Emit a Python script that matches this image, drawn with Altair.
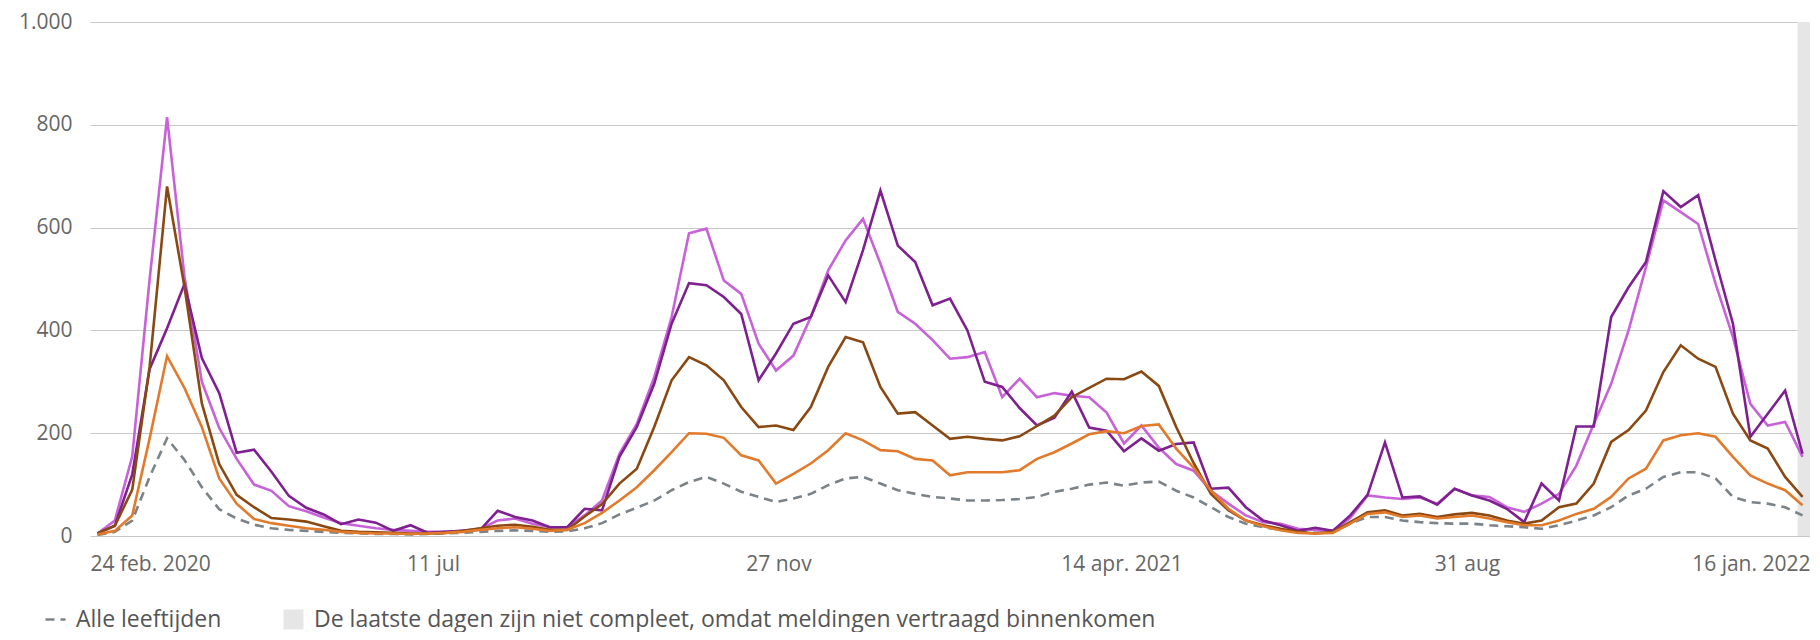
import altair as alt
import pandas as pd

# Weekly points (first week 27 feb 2020)
first_week = "2020-02-27"
n_weeks = 99
week_dates = pd.date_range(first_week, periods=n_weeks, freq="7D").strftime("%Y-%m-%d").tolist()

series_names = ["Groep A", "Groep B", "Groep C", "Groep D"]
series_colors = ["#c862d8", "#7e2090", "#8a4912", "#e27a2c"]

groep_a = [5, 30, 155, 500, 815, 505, 300, 210, 150, 100,
           88, 58, 48, 36, 25, 20, 15, 12, 10, 8,
           8, 10, 14, 30, 34, 24, 17, 17, 40, 69,
           160, 218, 309, 426, 589, 598, 497, 471, 374, 322,
           351, 426, 517, 575, 617, 530, 436, 413, 381, 345,
           348, 358, 270, 306, 270, 278, 273, 270, 240, 180,
           215, 172, 140, 127, 88, 63, 40, 27, 24, 14,
           12, 10, 35, 79, 75, 72, 75, 63, 92, 79,
           76, 56, 47, 63, 82, 137, 218, 296, 400, 523,
           653, 630, 607, 491, 387, 257, 215, 222, 154]

groep_b = [5, 20, 120, 325, 404, 490, 346, 278, 162, 168,
           125, 78, 55, 42, 23, 32, 26, 10, 21, 6,
           8, 10, 12, 49, 37, 30, 17, 17, 53, 50,
           154, 212, 296, 413, 492, 488, 465, 432, 303, 355,
           413, 426, 507, 455, 556, 672, 565, 533, 449, 462,
           400, 300, 290, 249, 215, 230, 281, 211, 205, 165,
           190, 166, 179, 182, 92, 94, 56, 30, 21, 10,
           16, 10, 40, 80, 182, 75, 77, 61, 92, 79,
           69, 53, 27, 102, 69, 213, 213, 426, 484, 533,
           671, 640, 663, 536, 413, 193, 238, 283, 160]

groep_c = [5, 20, 90, 330, 680, 485, 258, 140, 80, 56,
           35, 32, 28, 19, 10, 8, 7, 6, 5, 5,
           6, 10, 15, 20, 22, 18, 12, 12, 38, 62,
           102, 131, 212, 303, 348, 332, 303, 251, 212, 215,
           206, 251, 329, 387, 377, 290, 238, 241, 215, 189,
           193, 189, 186, 194, 214, 234, 270, 288, 306, 305,
           320, 292, 212, 142, 82, 50, 30, 21, 14, 8,
           5, 8, 27, 46, 50, 40, 43, 37, 42, 45,
           40, 30, 24, 30, 56, 63, 102, 183, 206, 244,
           319, 371, 345, 329, 238, 186, 170, 115, 76]

groep_d = [3, 10, 40, 190, 350, 288, 212, 112, 63, 33,
           25, 20, 15, 12, 8, 6, 5, 5, 4, 5,
           6, 8, 12, 15, 17, 14, 10, 12, 25, 45,
           69, 95, 128, 163, 200, 199, 191, 157, 147, 102,
           121, 141, 167, 200, 186, 167, 165, 150, 147, 118,
           124, 124, 124, 128, 150, 163, 180, 198, 204, 200,
           214, 217, 170, 133, 88, 53, 30, 19, 11, 6,
           5, 6, 24, 43, 46, 37, 40, 34, 37, 40,
           34, 27, 21, 21, 30, 43, 53, 76, 112, 131,
           186, 196, 200, 193, 154, 118, 102, 89, 60]

alle_leeftijden = [2, 8, 30, 115, 190, 148, 95, 52, 34, 22,
                   15, 12, 10, 8, 6, 5, 4, 4, 3, 4,
                   5, 6, 8, 10, 11, 10, 8, 9, 15, 25,
                   42, 55, 69, 89, 105, 115, 102, 86, 76, 66,
                   73, 82, 99, 112, 115, 102, 89, 82, 76, 73,
                   69, 69, 70, 72, 76, 86, 92, 100, 104, 98,
                   104, 106, 88, 75, 56, 37, 24, 17, 12, 8,
                   6, 8, 24, 37, 37, 30, 27, 25, 24, 24,
                   21, 19, 17, 14, 21, 30, 40, 56, 79, 92,
                   115, 124, 124, 112, 76, 66, 63, 56, 40]

tick_dates = ["2020-02-24", "2020-07-11", "2020-11-27", "2021-04-14", "2021-08-31", "2022-01-16"]
tick_labels = ["24 feb. 2020", "11 jul", "27 nov", "14 apr. 2021", "31 aug", "16 jan. 2022"]
y_ticks = [0, 200, 400, 600, 800, 1000]

band_start = "2022-01-11"
band_end = "2022-01-16"
band_label = "De laatste dagen zijn niet compleet, omdat meldingen vertraagd binnenkomen"
all_label = "Alle leeftijden"

FONT = "Open Sans"
LABEL_COLOR = "#666666"
LEGEND_COLOR = "#555555"
GREY_LINE = "#7b8388"

rows = []
for name, vals in zip(series_names, [groep_a, groep_b, groep_c, groep_d]):
    for d, v in zip(week_dates, vals):
        rows.append({"datum": d, "reeks": name, "waarde": v})
df_lines = pd.DataFrame(rows)
df_all = pd.DataFrame({"datum": week_dates, "waarde": alle_leeftijden, "reeks": all_label})
df_band = pd.DataFrame({"start": [band_start], "eind": [band_end], "label": [band_label],
                        "top": [y_ticks[-1]], "bodem": [y_ticks[0]]})


def dt(s):
    y, m, d = (int(p) for p in s.split("-"))
    return alt.DateTime(year=y, month=m, date=d, utc=True)


label_expr = " : ".join(
    f"utcFormat(datum.value, '%Y-%m-%d') == '{d}' ? '{l}'" for d, l in zip(tick_dates, tick_labels)
) + " : ''"

x_scale = alt.Scale(type="utc", domain=[dt(tick_dates[0]), dt(tick_dates[-1])])
y_scale = alt.Scale(domain=[y_ticks[0], y_ticks[-1]], nice=False)

x_axis = alt.Axis(values=[dt(d) for d in tick_dates], labelExpr=label_expr, grid=False,
                  domain=False, ticks=False, tickSize=0, labelPadding=17, labelFlush=True,
                  labelFontSize=21, labelFont=FONT, labelColor=LABEL_COLOR, title=None)
y_axis = alt.Axis(values=y_ticks, labelExpr="replace(format(datum.value, ','), ',', '.')",
                  grid=True, gridColor="#c9c9c9", gridWidth=1.2, domain=False, ticks=False,
                  tickSize=0, labelPadding=18, labelFontSize=21, labelFont=FONT,
                  labelColor=LABEL_COLOR, title=None)

legend_common = dict(orient="none", legendY=586, title=None, labelFontSize=23, labelFont=FONT,
                     labelColor=LEGEND_COLOR, labelOffset=9, padding=0, labelLimit=1400)

band = alt.Chart(df_band).mark_rect(opacity=1).encode(
    x=alt.X("start:T", scale=x_scale, axis=x_axis),
    x2="eind:T",
    y=alt.Y("top:Q", scale=y_scale, axis=y_axis),
    y2="bodem:Q",
    fill=alt.Fill("label:N", scale=alt.Scale(domain=[band_label], range=["#e6e6e6"]),
                  legend=alt.Legend(legendX=192, symbolType="square", symbolSize=400,
                                    symbolStrokeWidth=0, **legend_common)),
)

all_line = alt.Chart(df_all).mark_line(strokeWidth=2.6, color=GREY_LINE).encode(
    x=alt.X("datum:T", scale=x_scale, axis=x_axis),
    y=alt.Y("waarde:Q", scale=y_scale, axis=y_axis),
    strokeDash=alt.StrokeDash("reeks:N", scale=alt.Scale(domain=[all_label], range=[[9, 6]]),
                              legend=alt.Legend(legendX=-46, symbolType="stroke", symbolSize=400,
                                                symbolStrokeColor=GREY_LINE, symbolStrokeWidth=2.6,
                                                symbolDash=[7, 4], **legend_common)),
)

lines = alt.Chart(df_lines).mark_line(strokeWidth=2.6).encode(
    x=alt.X("datum:T", scale=x_scale, axis=x_axis),
    y=alt.Y("waarde:Q", scale=y_scale, axis=y_axis),
    color=alt.Color("reeks:N", scale=alt.Scale(domain=series_names, range=series_colors), legend=None),
    order=alt.Order("datum:T"),
    detail="reeks:N",
)

chart = alt.layer(band, all_line, lines).properties(
    width=1720, height=514,
    autosize=alt.AutoSizeParams(type="none"),
    padding={"left": 82, "top": 14, "right": 0, "bottom": 96},
).configure_view(stroke=None).resolve_legend(fill="independent", strokeDash="independent")

chart.save("out.html", embed_options={"renderer": "svg", "actions": False})
